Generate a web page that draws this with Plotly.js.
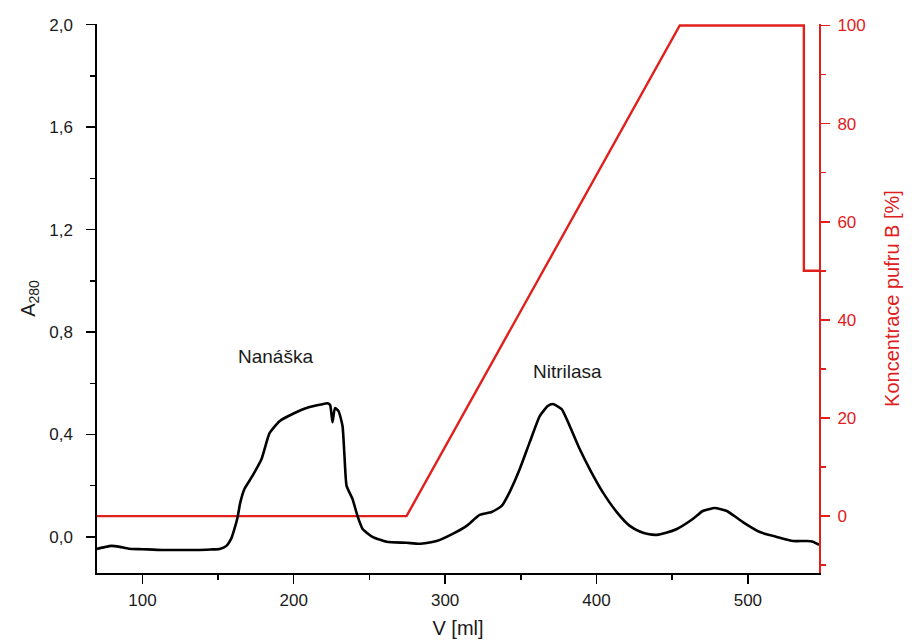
<!DOCTYPE html>
<html>
<head>
<meta charset="utf-8">
<script src="https://cdn.plot.ly/plotly-3.0.1.min.js"></script>
<style>
  html, body { margin: 0; padding: 0; background: #fff; }
  #chart { width: 912px; height: 644px; }
</style>
</head>
<body>
<div id="chart"></div>
<script>
// Absorbance chromatogram (A280) versus elution volume
const volume = [70, 75, 79.5, 85, 91, 100, 113, 125, 136, 145, 151, 155.5, 158.8, 161, 163, 164.5, 167.4, 172.7,
  178.7, 184, 190.6, 199.2, 210.4, 218, 222.3, 224, 225.6, 227.2, 229.6, 232.2, 233.5, 234.9, 238.8,
  242.1, 245.5, 252, 261.3, 274.5, 283, 294.4, 305, 314.2, 322.8, 330.7, 337.4, 342.6, 349.3, 355.9,
  362.5, 367.8, 371.1, 377, 382.3, 388.9, 395.5, 404.1, 413.4, 422, 428.6, 434, 439.8, 446, 453.1,
  463.6, 470.2, 478.2, 486.1, 496.7, 507.9, 519.2, 529.8, 539, 543, 547];
const absorbance = [-0.047, -0.040, -0.035, -0.039, -0.046, -0.048, -0.051, -0.051, -0.051, -0.049, -0.047, -0.035, -0.005, 0.035, 0.08, 0.13, 0.187, 0.238,
  0.304, 0.405, 0.452, 0.480, 0.507, 0.517, 0.522, 0.515, 0.448, 0.503, 0.491, 0.433, 0.316, 0.199, 0.148,
  0.082, 0.031, 0.0, -0.019, -0.023, -0.027, -0.016, 0.012, 0.043, 0.086, 0.097, 0.121, 0.175, 0.265, 0.370,
  0.472, 0.511, 0.519, 0.499, 0.433, 0.343, 0.265, 0.175, 0.097, 0.043, 0.021, 0.011, 0.008, 0.016, 0.031,
  0.070, 0.101, 0.113, 0.101, 0.058, 0.019, 0.0, -0.016, -0.016, -0.019, -0.031];

// Gradient programme: concentration of buffer B
const gradVolume = [70, 274.5, 455, 537, 537, 547];
const gradPercent = [0, 0, 100, 100, 50, 50];

// Peak labels
const peakNames = ['Nanáška', 'Nitrilasa'];
const peakX = [188, 381];
const peakY = [0.705, 0.645];

// Axis ticks
const xTicks = [100, 200, 300, 400, 500];
const aTicks = [0.0, 0.4, 0.8, 1.2, 1.6, 2.0];
const bTicks = [0, 20, 40, 60, 80, 100];

const RED = '#e0201c';
const INK = '#1a1a1a';
const FONT = 'Liberation Sans, Arial, sans-serif';

const traces = [
  {
    x: gradVolume, y: gradPercent, type: 'scatter', mode: 'lines',
    line: { color: RED, width: 2.4 }, yaxis: 'y', hoverinfo: 'skip'
  },
  {
    x: volume, y: absorbance, type: 'scatter', mode: 'lines',
    line: { color: '#000', width: 2.6, shape: 'spline', smoothing: 0.5 }, yaxis: 'y2', hoverinfo: 'skip'
  }
];

const layout = {
  width: 912, height: 644,
  margin: { l: 97, r: 93, t: 24, b: 71 },
  paper_bgcolor: '#fff', plot_bgcolor: '#fff',
  separators: ',.',
  showlegend: false,
  font: { family: FONT, size: 17, color: INK },
  xaxis: {
    range: [70, 547], tickvals: xTicks, ticktext: xTicks.map(String),
    showgrid: false, zeroline: false,
    showline: true, linecolor: '#000', linewidth: 1.6,
    ticks: 'outside', ticklen: 9, tickwidth: 1.4, tickcolor: '#000',
    minor: { dtick: 50, tick0: 0, ticks: 'outside', ticklen: 5, tickwidth: 1.4, tickcolor: '#000', showgrid: false },
    tickfont: { size: 17, color: INK }, ticklabelstandoff: 2,
    title: { text: 'V [ml]', font: { size: 20, color: INK }, standoff: 12 }
  },
  // Percentage axis (right side, red)
  yaxis: {
    side: 'right', range: [-11.6, 100.3], tickvals: bTicks, ticktext: bTicks.map(String),
    showgrid: false, zeroline: false,
    showline: true, linecolor: RED, linewidth: 2,
    ticks: 'outside', ticklen: 9, tickwidth: 1.6, tickcolor: RED,
    minor: { dtick: 10, tick0: 0, ticks: 'outside', ticklen: 5, tickwidth: 1.6, tickcolor: RED, showgrid: false },
    tickfont: { size: 17, color: RED }, ticklabelstandoff: 4,
    title: { text: 'Koncentrace pufru B [%]', font: { size: 20, color: RED }, standoff: 20 }
  },
  // Absorbance axis (left side, black)
  yaxis2: {
    overlaying: 'y', side: 'left', range: [-0.141, 2.003], tickvals: aTicks,
    ticktext: aTicks.map(v => v.toFixed(1).replace('.', ',')),
    showgrid: false, zeroline: false,
    showline: true, linecolor: '#000', linewidth: 1.6,
    ticks: 'outside', ticklen: 9, tickwidth: 1.4, tickcolor: '#000',
    minor: { dtick: 0.2, tick0: 0, ticks: 'outside', ticklen: 5, tickwidth: 1.4, tickcolor: '#000', showgrid: false },
    tickfont: { size: 17, color: INK }, ticklabelstandoff: 10,
    title: { text: 'A<sub>280</sub>', font: { size: 20, color: INK }, standoff: 8 }
  },
  annotations: peakNames.map((t, i) => ({
    x: peakX[i], y: peakY[i], xref: 'x', yref: 'y2', text: t, showarrow: false,
    font: { size: 19, color: INK, family: FONT }
  }))
};

Plotly.newPlot('chart', traces, layout, { staticPlot: true, displayModeBar: false });
</script>
</body>
</html>
